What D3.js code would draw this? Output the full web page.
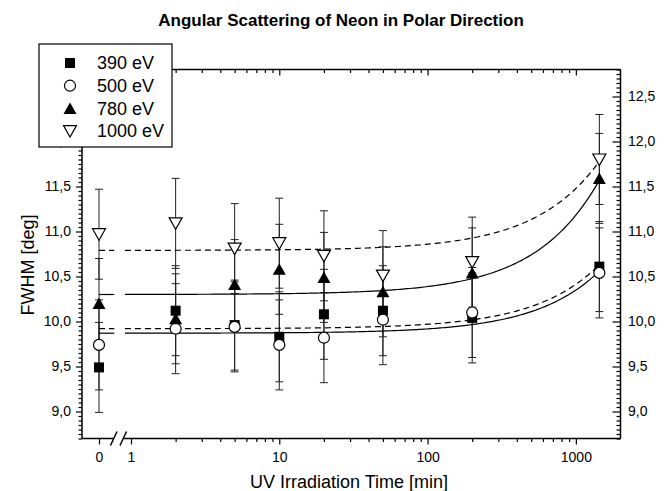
<!DOCTYPE html>
<html lang="en">
<head>
<meta charset="UTF-8">
<title>Angular Scattering of Neon in Polar Direction</title>
<style>
  body { margin: 0; background: #fff; }
  svg { display: block; font-family: "Liberation Sans", Arial, Helvetica, sans-serif; }
  .axis path, .axis line { stroke: #000; stroke-width: 1.2; }
  .axis text { font-size: 14px; fill: #000; font-family: "Liberation Sans", Arial, sans-serif; }
</style>
</head>
<body>
<svg id="chart" width="668" height="491"></svg>
<script src="https://cdn.jsdelivr.net/npm/d3@7/dist/d3.min.js"></script>
<script>
// irradiation times in minutes (0 sits left of the axis break)
const times = [0, 2, 5, 10, 20, 50, 200, 1440];
const seriesNames = ["390 eV", "500 eV", "780 eV", "1000 eV"];

// FWHM readings [deg]
const fwhm390  = [9.49, 10.12, 9.96, 9.83, 10.08, 10.12, 10.04, 10.61];
const fwhm500  = [9.74, 9.92, 9.94, 9.74, 9.82, 10.02, 10.10, 10.54];
const fwhm780  = [10.20, 10.03, 10.41, 10.58, 10.49, 10.33, 10.54, 11.59];
const fwhm1000 = [10.97, 11.09, 10.81, 10.87, 10.73, 10.51, 10.66, 11.80];

// error bars (+/-)
const err390  = [0.5, 0.5, 0.5, 0.5, 0.5, 0.5, 0.5, 0.5];
const err500  = [0.5, 0.5, 0.5, 0.5, 0.5, 0.5, 0.5, 0.5];
const err780  = [0.5, 0.5, 0.5, 0.5, 0.5, 0.5, 0.5, 0.5];
const err1000 = [0.5, 0.5, 0.5, 0.5, 0.5, 0.5, 0.5, 0.5];

// linear fits: FWHM = a + b * t
const fitIntercept = [9.87, 9.92, 10.30, 10.79];
const fitSlope     = [0.000479, 0.000493, 0.000882, 0.000688];

const xTickValues = [1, 10, 100, 1000];
const yTickValues = [9.0, 9.5, 10.0, 10.5, 11.0, 11.5, 12.0, 12.5];

const svg = d3.select("#chart");
const mLeft = 82, mRight = 620.5, mTop = 69.5, mBottom = 438.5;

// scales
const xLog = d3.scaleLog().domain([1, 2000]).range([131, mRight]);
const xBreak = d3.scaleLinear().domain([-0.5, 0.5]).range([mLeft, mLeft + 34]);
const xPos = t => t === 0 ? xBreak(0) : xLog(t);
const y = d3.scaleLinear().domain([8.7, 12.8]).range([mBottom, mTop]);

const commaFmt = d => d3.format(".1f")(d).replace(".", ",");

const minorX = xLog.ticks().filter(d => d < 2000 && !xTickValues.includes(d));
const majorSet = new Set(yTickValues.map(d => d.toFixed(2)));
const minorY = y.ticks(82).filter(d => !majorSet.has(d.toFixed(2)));

// ---- axes ----
// bottom, log part
svg.append("g").attr("class", "axis").attr("transform", `translate(0,${mBottom})`)
  .call(d3.axisBottom(xLog).tickValues(xTickValues).tickFormat(d3.format("d"))
    .tickSize(6).tickPadding(8))
  .call(g => g.select(".domain").remove());
svg.append("g").attr("class", "axis").attr("transform", `translate(0,${mBottom})`)
  .call(d3.axisBottom(xLog).tickValues(minorX).tickFormat("").tickSize(3.5))
  .call(g => g.select(".domain").remove());
// bottom, zero part
svg.append("g").attr("class", "axis").attr("transform", `translate(0,${mBottom})`)
  .call(d3.axisBottom(xBreak).tickValues([0]).tickFormat(d3.format("d"))
    .tickSize(6).tickPadding(8))
  .call(g => g.select(".domain").remove());

// top, mirrored inward ticks
svg.append("g").attr("class", "axis").attr("transform", `translate(0,${mTop})`)
  .call(d3.axisTop(xLog).tickValues(xTickValues).tickFormat("").tickSize(-6))
  .call(g => g.select(".domain").remove());
svg.append("g").attr("class", "axis").attr("transform", `translate(0,${mTop})`)
  .call(d3.axisTop(xLog).tickValues(minorX).tickFormat("").tickSize(-3.5))
  .call(g => g.select(".domain").remove());

// left
svg.append("g").attr("class", "axis").attr("transform", `translate(${mLeft},0)`)
  .call(d3.axisLeft(y).tickValues(yTickValues).tickFormat(commaFmt).tickSize(6).tickPadding(5))
  .call(g => g.select(".domain").remove());
svg.append("g").attr("class", "axis").attr("transform", `translate(${mLeft},0)`)
  .call(d3.axisLeft(y).tickValues(minorY).tickFormat("").tickSize(3.5))
  .call(g => g.select(".domain").remove());

// right (ticks point inward)
svg.append("g").attr("class", "axis").attr("transform", `translate(${mRight},0)`)
  .call(d3.axisRight(y).tickValues(yTickValues).tickFormat(commaFmt).tickSize(-8).tickPadding(7.5))
  .call(g => g.select(".domain").remove());
svg.append("g").attr("class", "axis").attr("transform", `translate(${mRight},0)`)
  .call(d3.axisRight(y).tickValues(minorY).tickFormat("").tickSize(-4))
  .call(g => g.select(".domain").remove());

// frame with axis break
const frame = svg.append("g").attr("stroke", "#000").attr("stroke-width", 1.5).attr("fill", "none");
frame.append("line").attr("x1", mLeft).attr("x2", mRight).attr("y1", mTop).attr("y2", mTop);
frame.append("line").attr("x1", mLeft).attr("x2", mLeft).attr("y1", mTop).attr("y2", mBottom);
frame.append("line").attr("x1", mRight).attr("x2", mRight).attr("y1", mTop).attr("y2", mBottom);
frame.append("line").attr("x1", mLeft).attr("x2", 113.5).attr("y1", mBottom).attr("y2", mBottom);
frame.append("line").attr("x1", 123.5).attr("x2", mRight).attr("y1", mBottom).attr("y2", mBottom);
frame.append("line").attr("x1", 110.5).attr("y1", mBottom + 7).attr("x2", 117).attr("y2", mBottom - 7);
frame.append("line").attr("x1", 120).attr("y1", mBottom + 7).attr("x2", 126.5).attr("y2", mBottom - 7);

// ---- data ----
const values = [fwhm390, fwhm500, fwhm780, fwhm1000];
const errors = [err390, err500, err780, err1000];
const dashes = [null, "6,4", null, "6,4"];

// error bars
const eb = svg.append("g").attr("stroke", "#222").attr("stroke-width", 1);
values.forEach((vals, s) => {
  vals.forEach((v, i) => {
    const cx = xPos(times[i]);
    const e = errors[s][i];
    eb.append("line").attr("x1", cx).attr("x2", cx).attr("y1", y(v - e)).attr("y2", y(v + e));
    eb.append("line").attr("x1", cx - 4).attr("x2", cx + 4).attr("y1", y(v - e)).attr("y2", y(v - e));
    eb.append("line").attr("x1", cx - 4).attr("x2", cx + 4).attr("y1", y(v + e)).attr("y2", y(v + e));
  });
});

// fit curves
const tStart = 0.91, tEnd = 1440;
const tSamples = d3.range(0, 201).map(i => tStart * Math.pow(tEnd / tStart, i / 200));
fitIntercept.forEach((a, s) => {
  const b = fitSlope[s];
  const g = svg.append("g").attr("fill", "none").attr("stroke", "#000").attr("stroke-width", 1.2)
    .attr("stroke-dasharray", dashes[s]);
  g.append("line").attr("x1", xBreak(0)).attr("x2", xBreak(0.45))
    .attr("y1", y(a)).attr("y2", y(a));
  g.append("path")
    .attr("d", d3.line().x(t => xLog(t)).y(t => y(a + b * t))(tSamples));
});

// markers
function marker(g, type, cx, cy) {
  if (type === 0) {
    g.append("rect").attr("x", cx - 5).attr("y", cy - 5).attr("width", 10).attr("height", 10)
      .attr("fill", "#000");
  } else if (type === 1) {
    g.append("circle").attr("cx", cx).attr("cy", cy).attr("r", 5.5)
      .attr("fill", "#fff").attr("stroke", "#000").attr("stroke-width", 1.2);
  } else if (type === 2) {
    g.append("path").attr("d", `M${cx},${cy - 6}L${cx + 6.5},${cy + 5.5}L${cx - 6.5},${cy + 5.5}Z`)
      .attr("fill", "#000");
  } else {
    g.append("path").attr("d", `M${cx - 6.5},${cy - 5.5}L${cx + 6.5},${cy - 5.5}L${cx},${cy + 6}Z`)
      .attr("fill", "#fff").attr("stroke", "#000").attr("stroke-width", 1.2);
  }
}

const mk = svg.append("g");
values.forEach((vals, s) => {
  vals.forEach((v, i) => marker(mk, s, xPos(times[i]), y(v)));
});

// legend
const lg = svg.append("g");
lg.append("rect").attr("x", 39).attr("y", 44).attr("width", 133).attr("height", 103)
  .attr("fill", "#fff").attr("stroke", "#000").attr("stroke-width", 1.2);
seriesNames.forEach((name, s) => {
  const ly = 63 + s * 22.7;
  marker(lg, s, 70, ly);
  lg.append("text").attr("x", 97).attr("y", ly).attr("dy", "0.35em")
    .attr("font-size", 18).text(name);
});

// titles
svg.append("text").attr("x", 341).attr("y", 26).attr("text-anchor", "middle")
  .attr("font-size", 17).attr("font-weight", "bold")
  .text("Angular Scattering of Neon in Polar Direction");
svg.append("text").attr("x", 349).attr("y", 488).attr("text-anchor", "middle")
  .attr("font-size", 18).text("UV Irradiation Time [min]");
svg.append("text").attr("transform", "translate(33.5,265) rotate(-90)")
  .attr("text-anchor", "middle").attr("font-size", 18).text("FWHM [deg]");
</script>
</body>
</html>
